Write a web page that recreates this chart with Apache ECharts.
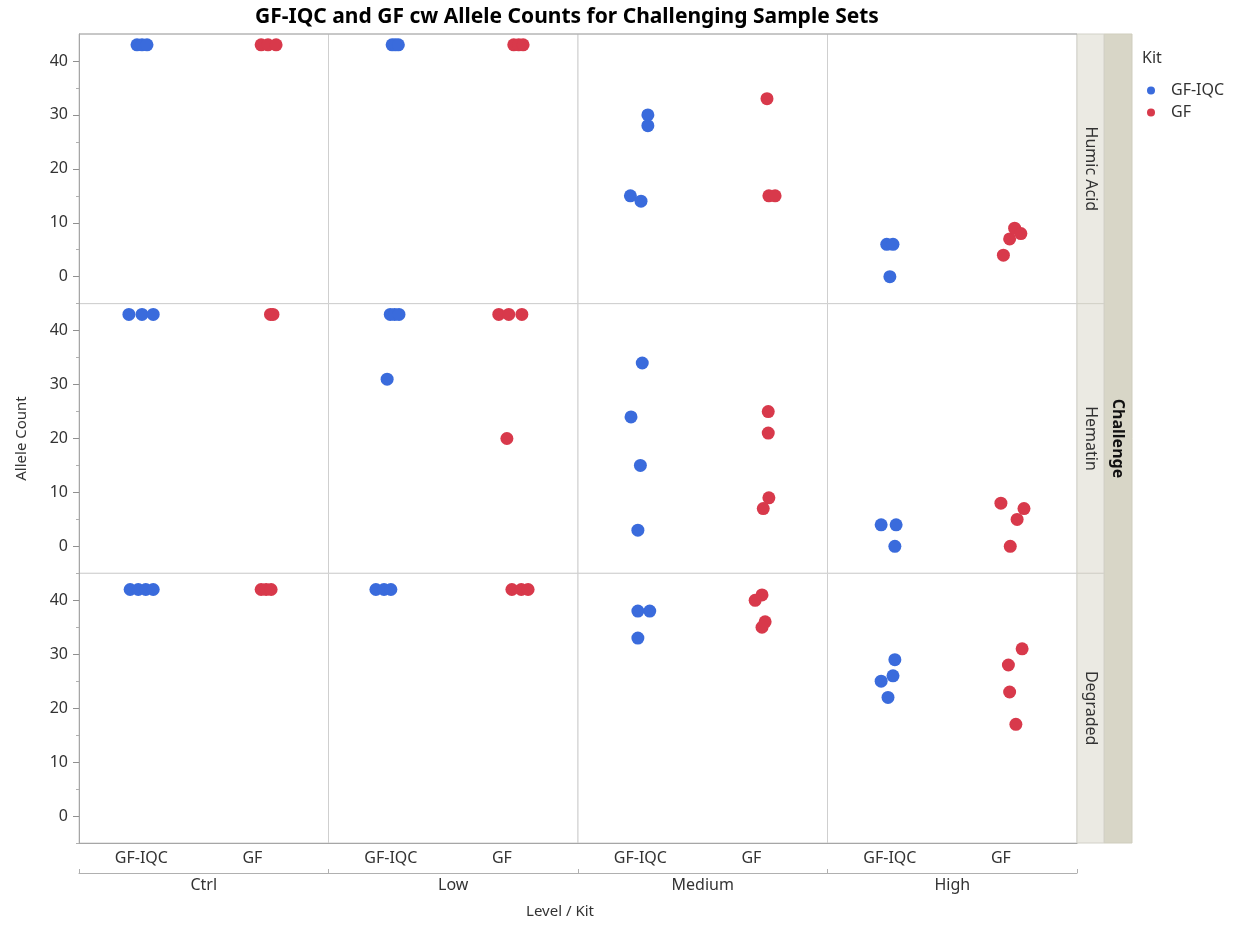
<!DOCTYPE html>
<html>
<head>
<meta charset="utf-8">
<title>GF-IQC and GF cw Allele Counts for Challenging Sample Sets</title>
<script src="https://cdn.jsdelivr.net/npm/echarts@6/dist/echarts.min.js"></script>
<style>
  html, body { margin: 0; padding: 0; background: #ffffff; }
  #chart { width: 1250px; height: 925px; }
</style>
</head>
<body>
<div id="chart"></div>
<script>
// ---- data -------------------------------------------------------------
const levels = ['Ctrl', 'Low', 'Medium', 'High'];
const challenges = ['Humic Acid', 'Hematin', 'Degraded'];
const kits = ['GF-IQC', 'GF'];
const yTickValues = [0, 10, 20, 30, 40];
const yMinorTickValues = [-5, 5, 15, 25, 35];

// allele counts, one inner list per level (Ctrl, Low, Medium, High)
const humicIQC    = [[43, 43, 43], [43, 43, 43], [30, 28, 15, 14], [6, 6, 0]];
const humicGF     = [[43, 43, 43], [43, 43, 43], [33, 15, 15], [4, 7, 9, 8]];
const hematinIQC  = [[43, 43, 43], [43, 43, 43, 31], [34, 24, 15, 3], [4, 4, 0]];
const hematinGF   = [[43, 43], [43, 43, 43, 20], [25, 21, 9, 7], [8, 7, 5, 0]];
const degradedIQC = [[42, 42, 42, 42], [42, 42, 42], [38, 38, 33], [29, 26, 25, 22]];
const degradedGF  = [[42, 42, 42], [42, 42, 42], [41, 40, 36, 35], [31, 28, 23, 17]];

// horizontal jitter of each point, in kit-band units (same shape as the counts)
const humicIQCJitter    = [[-0.035, 0.005, 0.045], [0.01, 0.035, 0.06], [0.06, 0.06, -0.08, 0.005], [-0.025, 0.025, 0.0]];
const humicGFJitter     = [[-0.04, 0.015, 0.08], [-0.015, 0.025, 0.06], [0.015, 0.03, 0.08], [-0.09, -0.04, 0.0, 0.05]];
const hematinIQCJitter  = [[-0.1, 0.005, 0.095], [-0.005, 0.03, 0.065, -0.03], [0.015, -0.075, 0.0, -0.02], [-0.07, 0.05, 0.04]];
const hematinGFJitter   = [[0.035, 0.055], [-0.135, -0.055, 0.05, -0.07], [0.025, 0.025, 0.03, -0.015], [-0.11, 0.075, 0.02, -0.035]];
const degradedIQCJitter = [[-0.09, -0.025, 0.035, 0.095], [-0.12, -0.055, 0.0], [-0.02, 0.075, -0.02], [0.04, 0.025, -0.07, -0.015]];
const degradedGFJitter  = [[-0.04, 0.0, 0.04], [-0.03, 0.045, 0.1], [-0.025, -0.08, 0.0, -0.025], [0.06, -0.05, -0.04, 0.01]];

const rowCounts = [[humicIQC, humicGF], [hematinIQC, hematinGF], [degradedIQC, degradedGF]];
const rowJitter = [[humicIQCJitter, humicGFJitter], [hematinIQCJitter, hematinGFJitter], [degradedIQCJitter, degradedGFJitter]];

// ---- layout & style ---------------------------------------------------
const PLOT = { left: 79, right: 1077, top: 34, bottom: 843 };
const colW = (PLOT.right - PLOT.left) / levels.length;
const rowH = (PLOT.bottom - PLOT.top) / challenges.length;
const kitCenter = [0.5, 1.5];          // kit band centres on the 0..2 panel axis
const kitLabelAt = [0.5, 1.39];        // where the kit names sit under each panel
const kitColors = ['#3a6bdc', '#d8394b'];
const FONT = '"Noto Sans", "Open Sans", sans-serif';
const TEXT = '#333333';

const grids = [], xAxes = [], yAxes = [], series = [];

challenges.forEach((ch, r) => {
  levels.forEach((lv, c) => {
    const g = grids.length;
    const isBottom = r === challenges.length - 1;
    const isLeft = c === 0;
    grids.push({
      left: PLOT.left + c * colW, top: PLOT.top + r * rowH,
      width: colW, height: rowH,
      show: true, borderColor: '#cfcfcf', borderWidth: 1, backgroundColor: '#ffffff',
      containLabel: false
    });

    // panel x axis (kit bands)
    xAxes.push({
      type: 'value', gridIndex: g, min: 0, max: 2, position: 'bottom',
      splitLine: { show: false },
      axisTick: { show: false },
      axisLine: { show: isBottom, onZero: false, lineStyle: { color: '#a6a6a6' } },
      axisLabel: {
        show: isBottom, customValues: kitLabelAt, margin: 7,
        fontFamily: FONT, fontSize: 16, color: TEXT,
        formatter: v => (v < 1 ? kits[0] : kits[1])
      }
    });
    // level bracket under the kit names
    if (isBottom) {
      xAxes.push({
        type: 'category', gridIndex: g, position: 'bottom', offset: 30,
        data: [lv], boundaryGap: true,
        axisLine: { show: true, onZero: false, lineStyle: { color: '#b0b0b0' } },
        axisTick: { show: true, inside: true, length: 4, lineStyle: { color: '#b0b0b0' } },
        axisLabel: { margin: 4, fontFamily: FONT, fontSize: 16, color: TEXT },
        splitLine: { show: false }
      });
    }
    const xIdx = xAxes.length - (isBottom ? 2 : 1);

    // panel y axis
    const yIdx = yAxes.length;
    yAxes.push({
      type: 'value', gridIndex: g, min: -5, max: 45, interval: 5, position: 'left',
      splitLine: { show: false },
      axisLine: { show: isLeft, onZero: false, lineStyle: { color: '#a6a6a6' } },
      axisTick: { show: isLeft, customValues: yTickValues, length: 6, lineStyle: { color: '#909090' } },
      axisLabel: {
        show: isLeft, customValues: yTickValues, margin: 11,
        fontFamily: FONT, fontSize: 16, color: TEXT
      },
      name: (isLeft && r === 1) ? 'Allele Count' : '',
      nameLocation: 'middle', nameGap: 50,
      nameTextStyle: { fontFamily: FONT, fontSize: 15, color: TEXT }
    });
    if (isLeft) {
      // minor ticks half way between the labelled ones
      yAxes.push({
        type: 'value', gridIndex: g, min: -5, max: 45, interval: 5, position: 'left',
        splitLine: { show: false },
        axisLine: { show: false, onZero: false },
        axisTick: { show: true, customValues: yMinorTickValues, length: 3, lineStyle: { color: '#b0b0b0' } },
        axisLabel: { show: false }
      });
    }

    kits.forEach((kit, k) => {
      const counts = rowCounts[r][k][c];
      const jit = rowJitter[r][k][c];
      series.push({
        type: 'scatter', name: kit,
        xAxisIndex: xIdx, yAxisIndex: yIdx,
        symbol: 'circle', symbolSize: 13,
        itemStyle: { color: kitColors[k], opacity: 1 },
        emphasis: { disabled: true },
        silent: true,
        data: counts.map((v, i) => [kitCenter[k] + jit[i], v])
      });
    });
  });
});

// strips on the right: one box per challenge, plus the group header
const graphics = [];
graphics.push({
  type: 'rect', shape: { x: 1104, y: PLOT.top, width: 28, height: PLOT.bottom - PLOT.top },
  style: { fill: '#d8d6c7', stroke: '#cfcdbd', lineWidth: 1 }, silent: true
});
challenges.forEach((ch, r) => {
  const top = PLOT.top + r * rowH;
  graphics.push({
    type: 'rect', shape: { x: PLOT.right, y: top, width: 27, height: rowH },
    style: { fill: '#ebeae3', stroke: '#d2d1c8', lineWidth: 1 }, silent: true
  });
  graphics.push({
    type: 'text', x: PLOT.right + 13.5, y: top + rowH / 2, rotation: -Math.PI / 2,
    style: { text: ch, fill: TEXT, font: '16px ' + FONT, textAlign: 'center', textVerticalAlign: 'middle' },
    silent: true
  });
});
graphics.push({
  type: 'text', x: 1118, y: (PLOT.top + PLOT.bottom) / 2, rotation: -Math.PI / 2,
  style: { text: 'Challenge', fill: '#111111', font: 'bold 16px ' + FONT, textAlign: 'center', textVerticalAlign: 'middle' },
  silent: true
});
// darker frame line along the top of the panels
graphics.push({
  type: 'line', shape: { x1: PLOT.left, y1: PLOT.top, x2: PLOT.right, y2: PLOT.top },
  style: { stroke: '#a8a8a8', lineWidth: 1 }, silent: true
});
// titles
graphics.push({
  type: 'text', x: 567, y: 17,
  style: { text: 'GF-IQC and GF cw Allele Counts for Challenging Sample Sets', fill: '#000000',
           font: 'bold 21px ' + FONT, textAlign: 'center', textVerticalAlign: 'middle' },
  silent: true
});
graphics.push({
  type: 'text', x: 560, y: 912,
  style: { text: 'Level / Kit', fill: TEXT, font: '15px ' + FONT, textAlign: 'center', textVerticalAlign: 'middle' },
  silent: true
});
graphics.push({
  type: 'text', x: 1142, y: 58,
  style: { text: 'Kit', fill: TEXT, font: '16px ' + FONT, textAlign: 'left', textVerticalAlign: 'middle' },
  silent: true
});

const chart = echarts.init(document.getElementById('chart'), null, { renderer: 'canvas' });
chart.setOption({
  animation: false,
  backgroundColor: '#ffffff',
  grid: grids,
  xAxis: xAxes,
  yAxis: yAxes,
  series: series,
  legend: {
    data: kits, orient: 'vertical', left: 1142, top: 77,
    icon: 'circle', itemWidth: 30, itemHeight: 8, itemGap: 5,
    selectedMode: false,
    textStyle: { fontFamily: FONT, fontSize: 16, color: TEXT, lineHeight: 17 }
  },
  graphic: graphics
});
</script>
</body>
</html>
